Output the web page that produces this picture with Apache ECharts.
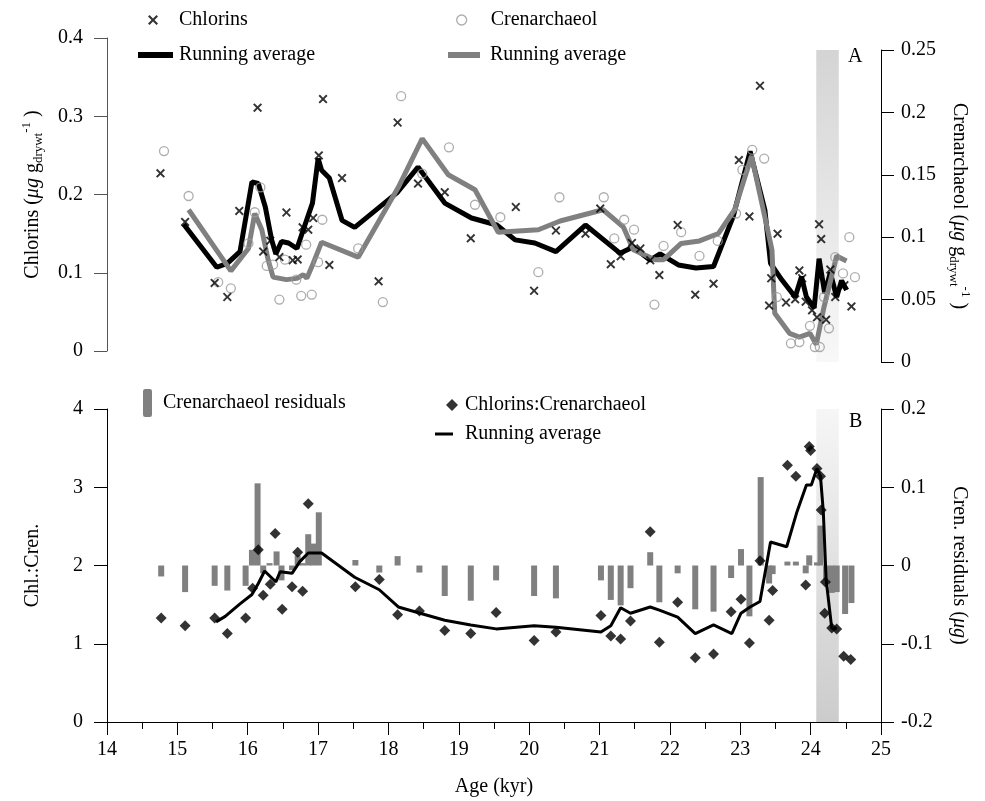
<!DOCTYPE html>
<html>
<head>
<meta charset="utf-8">
<script src="https://cdn.jsdelivr.net/npm/echarts@6/dist/echarts.min.js"></script>
<style>
html, body { margin: 0; padding: 0; background: #fff; }
#main { width: 985px; height: 801px; }
</style>
</head>
<body>
<div id="main"></div>
<script>
// Panel A: chlorins (left axis) and crenarchaeol (right axis), ages in kyr
var chlAge = [14.76, 15.11, 15.53, 15.71, 15.88, 16.14, 16.22, 16.32, 16.45, 16.55, 16.64, 16.71, 16.78, 16.86, 16.93, 17.01, 17.07, 17.16, 17.34, 17.86, 18.13, 18.42, 18.80, 19.17, 19.81, 20.07, 20.38, 20.80, 21.01, 21.16, 21.30, 21.46, 21.58, 21.72, 21.85, 22.11, 22.36, 22.62, 22.98, 23.13, 23.28, 23.41, 23.44, 23.53, 23.65, 23.78, 23.84, 23.88, 23.93, 24.02, 24.09, 24.12, 24.15, 24.22, 24.28, 24.35, 24.48, 24.58];
var chlVal = [0.227, 0.165, 0.087, 0.069, 0.179, 0.311, 0.127, 0.141, 0.120, 0.177, 0.116, 0.117, 0.158, 0.155, 0.170, 0.250, 0.322, 0.110, 0.221, 0.089, 0.292, 0.214, 0.203, 0.144, 0.184, 0.077, 0.154, 0.150, 0.182, 0.111, 0.121, 0.138, 0.131, 0.116, 0.097, 0.161, 0.072, 0.086, 0.244, 0.172, 0.339, 0.058, 0.093, 0.150, 0.062, 0.066, 0.103, 0.093, 0.063, 0.052, 0.043, 0.162, 0.143, 0.040, 0.104, 0.069, 0.084, 0.057];

var chlAvgAge = [15.09, 15.56, 15.71, 15.89, 16.06, 16.15, 16.25, 16.34, 16.40, 16.48, 16.58, 16.70, 16.79, 16.92, 17.00, 17.05, 17.16, 17.34, 17.52, 18.12, 18.42, 18.80, 19.18, 19.54, 19.80, 20.08, 20.38, 20.80, 21.29, 21.48, 21.72, 21.86, 22.12, 22.37, 22.62, 22.90, 23.14, 23.35, 23.43, 23.59, 23.78, 23.87, 23.94, 24.05, 24.12, 24.20, 24.28, 24.37, 24.44, 24.51];
var chlAvgVal = [0.162, 0.107, 0.112, 0.127, 0.216, 0.214, 0.184, 0.142, 0.124, 0.140, 0.138, 0.131, 0.155, 0.189, 0.246, 0.231, 0.221, 0.167, 0.158, 0.202, 0.235, 0.189, 0.170, 0.161, 0.142, 0.138, 0.127, 0.161, 0.125, 0.133, 0.116, 0.124, 0.110, 0.106, 0.108, 0.172, 0.255, 0.180, 0.112, 0.091, 0.069, 0.095, 0.069, 0.055, 0.118, 0.074, 0.100, 0.069, 0.090, 0.078];

var crenAge = [14.81, 15.16, 15.58, 15.76, 16.01, 16.10, 16.18, 16.27, 16.36, 16.45, 16.53, 16.69, 16.76, 16.83, 16.91, 17.00, 17.06, 17.57, 17.92, 18.18, 18.48, 18.86, 19.23, 19.59, 20.13, 20.43, 21.06, 21.21, 21.35, 21.49, 21.78, 21.91, 22.16, 22.42, 22.68, 22.94, 23.03, 23.17, 23.34, 23.52, 23.72, 23.84, 23.99, 24.06, 24.13, 24.19, 24.26, 24.35, 24.46, 24.55, 24.63];
var crenVal = [0.169, 0.133, 0.064, 0.059, 0.095, 0.120, 0.140, 0.077, 0.078, 0.050, 0.082, 0.066, 0.053, 0.094, 0.054, 0.080, 0.114, 0.091, 0.048, 0.213, 0.151, 0.172, 0.126, 0.116, 0.072, 0.132, 0.132, 0.099, 0.114, 0.106, 0.046, 0.093, 0.104, 0.085, 0.097, 0.119, 0.154, 0.170, 0.163, 0.052, 0.015, 0.016, 0.029, 0.012, 0.012, 0.052, 0.027, 0.084, 0.071, 0.100, 0.068];

var crenAvgAge = [15.16, 15.76, 16.01, 16.10, 16.20, 16.29, 16.36, 16.55, 16.70, 16.79, 16.84, 16.93, 17.05, 17.57, 18.14, 18.48, 18.85, 19.23, 19.56, 20.13, 20.44, 21.05, 21.34, 21.48, 21.79, 21.91, 22.16, 22.42, 22.69, 22.92, 23.16, 23.35, 23.45, 23.49, 23.70, 23.84, 23.99, 24.08, 24.19, 24.37, 24.51];
var crenAvgVal = [0.122, 0.073, 0.091, 0.119, 0.106, 0.082, 0.068, 0.066, 0.067, 0.070, 0.067, 0.079, 0.096, 0.084, 0.140, 0.179, 0.150, 0.138, 0.104, 0.106, 0.113, 0.122, 0.108, 0.090, 0.082, 0.082, 0.095, 0.097, 0.103, 0.122, 0.165, 0.116, 0.090, 0.039, 0.023, 0.020, 0.023, 0.014, 0.044, 0.085, 0.081];

// Panel B: chlorins:crenarchaeol ratio and crenarchaeol residuals
var ratioAge = [14.77, 15.11, 15.53, 15.71, 15.97, 16.07, 16.15, 16.22, 16.32, 16.39, 16.49, 16.63, 16.71, 16.78, 16.86, 17.53, 17.87, 18.13, 18.44, 18.80, 19.17, 19.53, 20.07, 20.38, 21.02, 21.16, 21.30, 21.44, 21.72, 21.85, 22.11, 22.36, 22.62, 22.87, 23.01, 23.13, 23.28, 23.41, 23.46, 23.67, 23.79, 23.93, 23.98, 24.00, 24.09, 24.14, 24.15, 24.20, 24.21, 24.30, 24.37, 24.47, 24.57];
var ratioVal = [1.33, 1.23, 1.33, 1.13, 1.33, 1.71, 2.20, 1.62, 1.76, 2.41, 1.44, 1.73, 2.17, 1.67, 2.79, 1.73, 1.82, 1.37, 1.42, 1.17, 1.13, 1.40, 1.04, 1.15, 1.36, 1.10, 1.06, 1.29, 2.43, 1.02, 1.53, 0.82, 0.87, 1.41, 1.57, 1.01, 2.06, 1.30, 1.68, 3.28, 3.14, 1.75, 3.52, 3.47, 3.24, 3.14, 2.71, 1.39, 1.79, 1.20, 1.19, 0.84, 0.80];

var ratioAvgAge = [15.55, 15.68, 15.89, 16.06, 16.15, 16.24, 16.32, 16.40, 16.46, 16.63, 16.74, 16.86, 17.05, 17.52, 17.87, 18.14, 18.45, 18.80, 19.17, 19.53, 20.07, 20.38, 21.02, 21.16, 21.30, 21.44, 21.72, 21.85, 22.11, 22.36, 22.62, 22.88, 23.01, 23.14, 23.28, 23.43, 23.66, 23.80, 23.94, 24.01, 24.09, 24.14, 24.18, 24.22, 24.30, 24.37];
var ratioAvgVal = [1.28, 1.35, 1.51, 1.63, 1.77, 1.93, 1.86, 1.79, 1.92, 1.90, 2.05, 2.16, 2.16, 1.85, 1.69, 1.47, 1.39, 1.30, 1.24, 1.19, 1.23, 1.21, 1.15, 1.23, 1.46, 1.39, 1.47, 1.43, 1.34, 1.13, 1.24, 1.13, 1.39, 1.47, 1.54, 2.30, 2.24, 2.67, 3.03, 3.03, 3.24, 3.14, 2.69, 1.82, 1.20, 1.19];

var resAge = [14.77, 15.11, 15.53, 15.71, 15.97, 16.06, 16.14, 16.22, 16.31, 16.41, 16.48, 16.63, 16.71, 16.78, 16.86, 16.93, 17.01, 17.53, 17.87, 18.13, 18.44, 18.80, 19.17, 19.53, 20.07, 20.38, 21.02, 21.16, 21.30, 21.44, 21.72, 21.85, 22.11, 22.36, 22.62, 22.87, 23.01, 23.13, 23.29, 23.41, 23.46, 23.67, 23.79, 23.93, 23.98, 24.09, 24.14, 24.22, 24.30, 24.37, 24.49, 24.58];
var resVal = [-0.014, -0.034, -0.026, -0.032, -0.026, 0.020, 0.105, -0.010, 0.003, 0.018, -0.019, -0.006, 0.013, 0.003, 0.040, 0.028, 0.068, 0.007, -0.009, 0.012, -0.009, -0.039, -0.045, -0.019, -0.039, -0.042, -0.019, -0.044, -0.051, -0.029, 0.017, -0.047, -0.010, -0.056, -0.059, -0.016, 0.021, -0.065, 0.113, -0.023, -0.011, 0.005, 0.005, -0.010, 0.013, 0.004, 0.051, -0.018, -0.035, -0.034, -0.062, -0.048];

// shaded interval (kyr)
var band = [24.08, 24.40];

function pairs(xs, ys) {
    var out = [];
    for (var i = 0; i < xs.length; i++) out.push([xs[i], ys[i]]);
    return out;
}

var serif = 'Liberation Serif';
var crossPath = 'path://M0,1.5L1.5,0L5,3.5L8.5,0L10,1.5L6.5,5L10,8.5L8.5,10L5,6.5L1.5,10L0,8.5L3.5,5Z';
var txt = { fontFamily: serif, fontSize: 20, color: '#000' };
function padTxt(p) {
    return { fontFamily: serif, fontSize: 20, color: '#000', padding: [0, 0, 0, p] };
}
var rich = {
    it: { fontFamily: serif, fontSize: 20, fontStyle: 'italic', color: '#000' },
    sub: { fontFamily: serif, fontSize: 13, color: '#000', verticalAlign: 'bottom' },
    sup: { fontFamily: serif, fontSize: 13, color: '#000', verticalAlign: 'top' }
};

function yAx(grid, min, max, step, pos, name, gap, rot, lineColor) {
    return {
        gridIndex: grid, type: 'value', min: min, max: max, interval: step, position: pos,
        axisLine: { show: true, onZero: false, lineStyle: { color: lineColor, width: 1 } },
        axisTick: { show: true, length: 13, lineStyle: { color: lineColor } },
        splitLine: { show: false },
        axisLabel: { margin: pos === 'left' ? 24 : 20, fontFamily: serif, fontSize: 20, color: '#000' },
        name: name, nameLocation: 'middle', nameGap: gap, nameRotate: rot,
        nameTextStyle: { fontFamily: serif, fontSize: 20, color: '#000', lineHeight: 25, rich: rich }
    };
}

function shade(top, bottom) {
    return {
        type: 'linear', x: 0, y: 0, x2: 0, y2: 1,
        colorStops: [{ offset: 0, color: top }, { offset: 1, color: bottom }]
    };
}

var chart = echarts.init(document.getElementById('main'));

var option = {
    animation: false,
    backgroundColor: '#fff',
    grid: [
        { left: 107, right: 104, top: 38, height: 313 },
        { left: 107, right: 104, top: 50, height: 312 },
        { left: 107, right: 104, top: 409, height: 313 }
    ],
    xAxis: [
        { gridIndex: 0, type: 'value', min: 14, max: 25, show: false },
        { gridIndex: 1, type: 'value', min: 14, max: 25, show: false },
        {
            gridIndex: 2, type: 'value', min: 14, max: 25, interval: 1,
            axisLine: { show: true, onZero: false, lineStyle: { color: '#000', width: 1 } },
            axisTick: { show: true, length: 13, lineStyle: { color: '#000' } },
            minorTick: { show: true, splitNumber: 2, length: 7, lineStyle: { color: '#000' } },
            splitLine: { show: false },
            minorSplitLine: { show: false },
            axisLabel: { margin: 18, fontFamily: serif, fontSize: 20, color: '#000' },
            name: 'Age (kyr)', nameLocation: 'middle', nameGap: 55, nameTextStyle: txt
        }
    ],
    yAxis: [
        yAx(0, 0, 0.4, 0.1, 'left', 'Chlorins ({it|μg} g{sub|drywt}{sup|-1} )', 62, 90, '#555'),
        yAx(1, 0, 0.25, 0.05, 'right', 'Crenarchaeol ({it|μg} g{sub|drywt}{sup|-1} )', 66, -90, '#000'),
        yAx(2, 0, 4, 1, 'left', 'Chl.:Cren.', 62, 90, '#000'),
        yAx(2, -0.2, 0.2, 0.1, 'right', 'Cren. residuals ({it|μg})', 66, -90, '#000')
    ],
    legend: [
        { data: [{ name: 'Chlorins', icon: crossPath }], left: 148, top: 10, padding: 0, itemWidth: 10, itemHeight: 10, selectedMode: false, textStyle: padTxt(16) },
        { data: ['chlAvg'], icon: 'rect', left: 138, top: 45, padding: 0, itemWidth: 35, itemHeight: 6, selectedMode: false, formatter: 'Running average', textStyle: padTxt(1) },
        { data: [{ name: 'Crenarchaeol', icon: 'circle', itemStyle: { color: 'rgba(0,0,0,0)', borderColor: '#999', borderWidth: 1.3 } }], left: 456, top: 10, padding: 0, itemWidth: 10, itemHeight: 10, selectedMode: false, textStyle: padTxt(19) },
        { data: ['crenAvg'], icon: 'rect', left: 448, top: 45, padding: 0, itemWidth: 32, itemHeight: 6, selectedMode: false, formatter: 'Running average', textStyle: padTxt(5) },
        { data: [{ name: 'Crenarchaeol residuals', icon: 'roundRect' }], left: 143, top: 389, padding: 0, itemWidth: 9, itemHeight: 28, selectedMode: false, textStyle: padTxt(6) },
        { data: [{ name: 'Chlorins:Crenarchaeol', icon: 'diamond' }], left: 446, top: 395, padding: 0, itemWidth: 12, itemHeight: 12, selectedMode: false, textStyle: padTxt(2) },
        { data: ['ratioAvg'], icon: 'rect', left: 435, top: 424, padding: 0, itemWidth: 18, itemHeight: 3, selectedMode: false, formatter: 'Running average', textStyle: padTxt(7) }
    ],
    graphic: [
        { type: 'text', left: 848, top: 47, style: { text: 'A', fontFamily: serif, fontSize: 20, fill: '#000' } },
        { type: 'text', left: 849, top: 412, style: { text: 'B', fontFamily: serif, fontSize: 20, fill: '#000' } }
    ],
    series: [
        {
            type: 'line', xAxisIndex: 1, yAxisIndex: 1, data: [], z: 1, silent: true,
            markArea: { silent: true, itemStyle: { color: shade('#d4d4d4', '#f8f8f8') }, data: [[{ xAxis: band[0] }, { xAxis: band[1] }]] }
        },
        {
            type: 'line', xAxisIndex: 2, yAxisIndex: 2, data: [], z: 1, silent: true,
            markArea: { silent: true, itemStyle: { color: shade('#f6f6f6', '#cccccc') }, data: [[{ xAxis: band[0] }, { xAxis: band[1] }]] }
        },
        {
            name: 'chlAvg', type: 'line', xAxisIndex: 0, yAxisIndex: 0, data: pairs(chlAvgAge, chlAvgVal),
            symbol: 'none', color: '#000', lineStyle: { color: '#000', width: 5 }, z: 3
        },
        {
            name: 'crenAvg', type: 'line', xAxisIndex: 1, yAxisIndex: 1, data: pairs(crenAvgAge, crenAvgVal),
            symbol: 'none', color: '#808080', lineStyle: { color: '#808080', width: 5 }, z: 3
        },
        {
            name: 'Crenarchaeol', type: 'scatter', xAxisIndex: 1, yAxisIndex: 1, data: pairs(crenAge, crenVal),
            symbol: 'circle', symbolSize: 9,
            itemStyle: { color: 'rgba(0,0,0,0)', borderColor: '#999', borderWidth: 1.3 }, z: 4
        },
        {
            name: 'Chlorins', type: 'scatter', xAxisIndex: 0, yAxisIndex: 0, data: pairs(chlAge, chlVal),
            symbol: crossPath, symbolSize: 9, color: '#000', z: 5
        },
        {
            name: 'Crenarchaeol residuals', type: 'bar', xAxisIndex: 2, yAxisIndex: 3, data: pairs(resAge, resVal),
            barWidth: 6, color: '#808080', z: 2
        },
        {
            name: 'ratioAvg', type: 'line', xAxisIndex: 2, yAxisIndex: 2, data: pairs(ratioAvgAge, ratioAvgVal),
            symbol: 'none', color: '#000', lineStyle: { color: '#000', width: 3 }, z: 3
        },
        {
            name: 'Chlorins:Crenarchaeol', type: 'scatter', xAxisIndex: 2, yAxisIndex: 2, data: pairs(ratioAge, ratioVal),
            symbol: 'diamond', symbolSize: 11, color: '#000', z: 4
        }
    ]
};

chart.setOption(option);
</script>
</body>
</html>
